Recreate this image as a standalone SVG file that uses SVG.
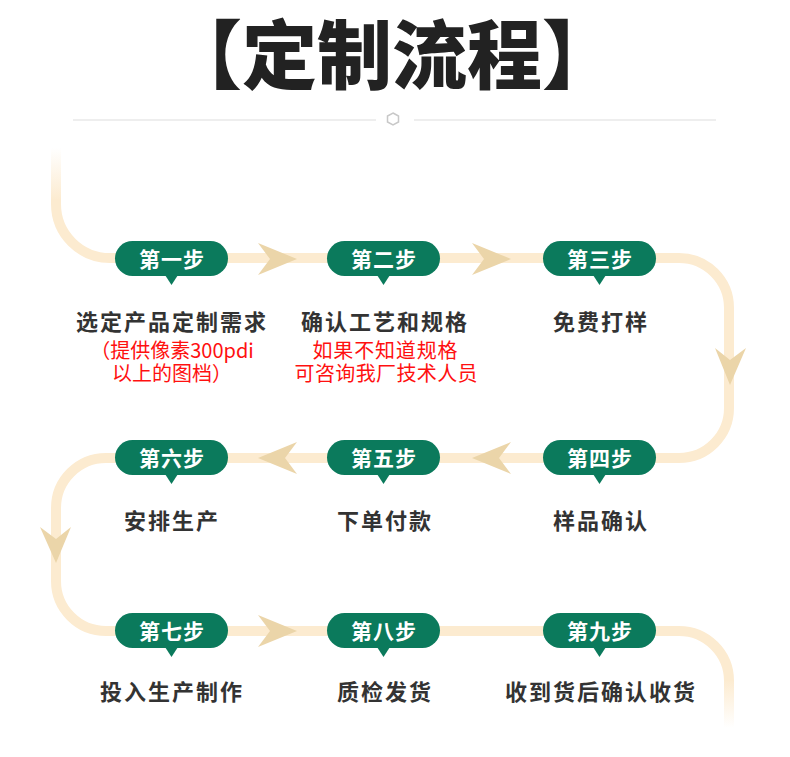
<svg xmlns="http://www.w3.org/2000/svg" width="790" height="757" viewBox="0 0 790 757">
  <defs>
    <style>
      .pill { fill: #0b7a5c; }
      .pt { font-family: "Noto Sans CJK SC", "Noto Sans", sans-serif; font-size: 21px; font-weight: bold; fill: #ffffff; text-anchor: middle; letter-spacing: 1px; }
      .lbl { font-family: "Noto Sans CJK SC", "Noto Sans", sans-serif; font-size: 22px; font-weight: bold; fill: #333333; text-anchor: middle; letter-spacing: 2px; }
      .red { font-family: "Noto Sans CJK SC", "Noto Sans", sans-serif; font-size: 20px; fill: #ff1010; text-anchor: middle; }
      .flow { fill: none; stroke: #fcebd0; stroke-width: 10; }
      .arr { fill: #ebd5a9; }
      .sep { stroke: #dddddd; stroke-width: 1; }
    </style>
    <linearGradient id="fadeTop" gradientUnits="userSpaceOnUse" x1="0" y1="148" x2="0" y2="200">
      <stop offset="0" stop-color="#fcebd0" stop-opacity="0"/>
      <stop offset="1" stop-color="#fcebd0" stop-opacity="1"/>
    </linearGradient>
    <linearGradient id="fadeBot" gradientUnits="userSpaceOnUse" x1="0" y1="680" x2="0" y2="728">
      <stop offset="0" stop-color="#fcebd0" stop-opacity="1"/>
      <stop offset="1" stop-color="#fcebd0" stop-opacity="0"/>
    </linearGradient>
  </defs>
  <rect width="790" height="757" fill="#ffffff"/>

  <g id="title">
    <text x="392" y="83" font-family="Noto Sans CJK SC, sans-serif" font-size="75" font-weight="900" fill="#222222" text-anchor="middle">【定制流程】</text>
    <line class="sep" x1="73" y1="120" x2="376" y2="120"/>
    <line class="sep" x1="414" y1="120" x2="716" y2="120"/>
    <polygon points="393,113 398.5,116 398.5,122 393,125 387.5,122 387.5,116" fill="none" stroke="#c8c8c8" stroke-width="1.5"/>
  </g>

  <g id="connectors">
    <path d="M56 148 V200" fill="none" stroke="url(#fadeTop)" stroke-width="10"/>
    <path class="flow" d="M56 199 V204 A54 54 0 0 0 110 258 H679 A50 50 0 0 1 729 308 V408 A50 50 0 0 1 679 458 H106 A50 50 0 0 0 56 508 V581 A50 50 0 0 0 106 631 H679 A50 50 0 0 1 729 681"/>
    <path d="M729 680 V728" fill="none" stroke="url(#fadeBot)" stroke-width="10"/>
    <path class="arr" d="M258 243 L297 259 L258 275 L270 259 Z"/>
    <path class="arr" d="M472 243 L511 259 L472 275 L484 259 Z"/>
    <path class="arr" d="M715 348 L730 360 L746 348 L730 385 Z"/>
    <path class="arr" d="M511 442 L472 458 L511 474 L499 458 Z"/>
    <path class="arr" d="M297 442 L258 458 L297 474 L285 458 Z"/>
    <path class="arr" d="M40 527 L56 539 L71 527 L56 563 Z"/>
    <path class="arr" d="M258 615 L297 631 L258 647 L270 631 Z"/>
  </g>

  <g id="step1">
    <rect class="pill" x="115" y="241" width="113" height="35" rx="17.5"/>
    <path class="pill" d="M165 275 L178 275 L171.5 285 Z"/>
    <text class="pt" x="172" y="266.5">第一步</text>
    <text class="lbl" x="172" y="330">选定产品定制需求</text>
    <text class="red" x="172" y="358">（提供像素300pdi</text>
    <text class="red" x="172" y="381">以上的图档）</text>
  </g>
  <g id="step2">
    <rect class="pill" x="327" y="241" width="113" height="35" rx="17.5"/>
    <path class="pill" d="M377 275 L390 275 L383.5 285 Z"/>
    <text class="pt" x="384" y="266.5">第二步</text>
    <text class="lbl" x="385" y="330">确认工艺和规格</text>
    <text class="red" x="385" y="358" textLength="145" lengthAdjust="spacing">如果不知道规格</text>
    <text class="red" x="386" y="381" textLength="183" lengthAdjust="spacing">可咨询我厂技术人员</text>
  </g>
  <g id="step3">
    <rect class="pill" x="543" y="241" width="113" height="35" rx="17.5"/>
    <path class="pill" d="M593 275 L606 275 L599.5 285 Z"/>
    <text class="pt" x="600" y="266.5">第三步</text>
    <text class="lbl" x="601" y="330">免费打样</text>
  </g>
  <g id="step4">
    <rect class="pill" x="543" y="440" width="113" height="35" rx="17.5"/>
    <path class="pill" d="M593 474 L606 474 L599.5 484 Z"/>
    <text class="pt" x="600" y="465.5">第四步</text>
    <text class="lbl" x="601" y="529">样品确认</text>
  </g>
  <g id="step5">
    <rect class="pill" x="327" y="440" width="113" height="35" rx="17.5"/>
    <path class="pill" d="M377 474 L390 474 L383.5 484 Z"/>
    <text class="pt" x="384" y="465.5">第五步</text>
    <text class="lbl" x="385" y="529">下单付款</text>
  </g>
  <g id="step6">
    <rect class="pill" x="115" y="440" width="113" height="35" rx="17.5"/>
    <path class="pill" d="M165 474 L178 474 L171.5 484 Z"/>
    <text class="pt" x="172" y="465.5">第六步</text>
    <text class="lbl" x="172" y="529">安排生产</text>
  </g>
  <g id="step7">
    <rect class="pill" x="115" y="613" width="113" height="35" rx="17.5"/>
    <path class="pill" d="M165 647 L178 647 L171.5 657 Z"/>
    <text class="pt" x="172" y="638.5">第七步</text>
    <text class="lbl" x="172" y="700">投入生产制作</text>
  </g>
  <g id="step8">
    <rect class="pill" x="327" y="613" width="113" height="35" rx="17.5"/>
    <path class="pill" d="M377 647 L390 647 L383.5 657 Z"/>
    <text class="pt" x="384" y="638.5">第八步</text>
    <text class="lbl" x="385" y="700">质检发货</text>
  </g>
  <g id="step9">
    <rect class="pill" x="543" y="613" width="113" height="35" rx="17.5"/>
    <path class="pill" d="M593 647 L606 647 L599.5 657 Z"/>
    <text class="pt" x="600" y="638.5">第九步</text>
    <text class="lbl" x="601" y="700">收到货后确认收货</text>
  </g>
</svg>
